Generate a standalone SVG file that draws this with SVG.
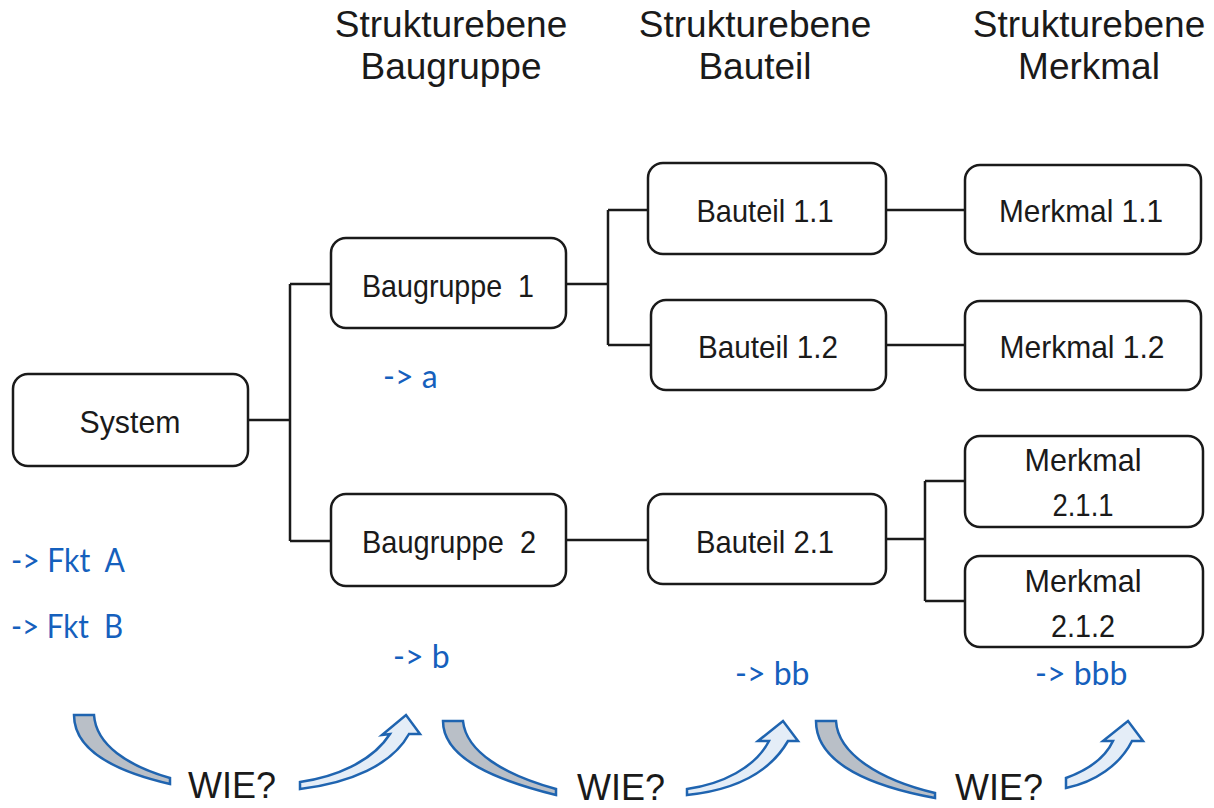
<svg xmlns="http://www.w3.org/2000/svg" width="1214" height="808" viewBox="0 0 1214 808">
<style>
.box{fill:#fff;stroke:#1a1a1a;stroke-width:2.5}
.lbl{font-family:"Liberation Sans",Arial,sans-serif;font-size:32px;fill:#1a1a1a;text-anchor:middle}
.ttl{font-family:"Liberation Sans",Arial,sans-serif;font-size:37px;fill:#1a1a1a;text-anchor:middle}
.blue{font-family:Lato,"Liberation Sans",sans-serif;font-size:32px;fill:#1560bd}
.wie{font-family:"Liberation Sans",Arial,sans-serif;font-size:36px;fill:#1a1a1a}
.con{fill:none;stroke:#1a1a1a;stroke-width:2.5}
.tail{fill:#b9bfc7;stroke:#1f64b0;stroke-width:2.5;stroke-linejoin:miter}
.up{fill:#e4edf7;stroke:#1f64b0;stroke-width:2.5;stroke-linejoin:miter}
</style>
<rect width="1214" height="808" fill="#fff"/>
<g id="titles">
<text class="ttl" x="451" y="37">Strukturebene</text>
<text class="ttl" x="451" y="79">Baugruppe</text>
<text class="ttl" x="755" y="37">Strukturebene</text>
<text class="ttl" x="755" y="79">Bauteil</text>
<text class="ttl" x="1089" y="37">Strukturebene</text>
<text class="ttl" x="1089" y="79">Merkmal</text>
</g>
<g id="connectors">
<path class="con" d="M248,420 H290 M290,284 V541 M290,284 H331 M290,541 H331"/>
<path class="con" d="M566,284 H608 M608,210 V345 M608,210 H648 M608,345 H651"/>
<path class="con" d="M886,210 H965 M886,345 H965"/>
<path class="con" d="M566,540 H648"/>
<path class="con" d="M886,539 H925 M925,481 V601 M925,481 H965 M925,601 H965"/>
</g>
<g id="system"><rect class="box" x="13" y="374" width="235" height="92" rx="15"/><text class="lbl" x="130" y="433" textLength="101" lengthAdjust="spacingAndGlyphs">System</text></g>
<g id="baugruppe1"><rect class="box" x="331" y="238" width="235" height="90" rx="15"/><text class="lbl" x="448" y="297" xml:space="preserve" textLength="172" lengthAdjust="spacingAndGlyphs">Baugruppe  1</text></g>
<g id="baugruppe2"><rect class="box" x="331" y="494" width="235" height="92" rx="15"/><text class="lbl" x="449" y="553" xml:space="preserve" textLength="174" lengthAdjust="spacingAndGlyphs">Baugruppe  2</text></g>
<g id="bauteil11"><rect class="box" x="648" y="163" width="238" height="91" rx="15"/><text class="lbl" x="765" y="222" textLength="137" lengthAdjust="spacingAndGlyphs">Bauteil 1.1</text></g>
<g id="bauteil12"><rect class="box" x="651" y="300" width="235" height="90" rx="15"/><text class="lbl" x="768" y="358" textLength="140" lengthAdjust="spacingAndGlyphs">Bauteil 1.2</text></g>
<g id="merkmal11"><rect class="box" x="965" y="165" width="236" height="89" rx="15"/><text class="lbl" x="1081" y="222" textLength="164" lengthAdjust="spacingAndGlyphs">Merkmal 1.1</text></g>
<g id="merkmal12"><rect class="box" x="965" y="301" width="236" height="89" rx="15"/><text class="lbl" x="1082" y="358" textLength="165" lengthAdjust="spacingAndGlyphs">Merkmal 1.2</text></g>
<g id="bauteil21"><rect class="box" x="648" y="494" width="238" height="90" rx="15"/><text class="lbl" x="765" y="553" textLength="138" lengthAdjust="spacingAndGlyphs">Bauteil 2.1</text></g>
<g id="merkmal211"><rect class="box" x="965" y="436" width="238" height="91" rx="15"/><text class="lbl" x="1083" y="471" textLength="117" lengthAdjust="spacingAndGlyphs">Merkmal</text><text class="lbl" x="1083" y="516" textLength="61" lengthAdjust="spacingAndGlyphs">2.1.1</text></g>
<g id="merkmal212"><rect class="box" x="965" y="556" width="238" height="91" rx="15"/><text class="lbl" x="1083" y="592" textLength="117" lengthAdjust="spacingAndGlyphs">Merkmal</text><text class="lbl" x="1083" y="637" textLength="64" lengthAdjust="spacingAndGlyphs">2.1.2</text></g>
<g id="notes">
<text class="blue" x="383" y="388">-&gt; a</text>
<text class="blue" x="393" y="668">-&gt; b</text>
<text class="blue" x="735" y="685">-&gt; bb</text>
<text class="blue" x="1035" y="685">-&gt; bbb</text>
<text class="blue" x="11" y="572" xml:space="preserve" textLength="114" lengthAdjust="spacingAndGlyphs">-&gt; Fkt  A</text>
<text class="blue" x="11" y="638" xml:space="preserve" textLength="112" lengthAdjust="spacingAndGlyphs">-&gt; Fkt  B</text>
</g>
<g id="wie-arrows">
<path class="tail" d="M74,715 L94,715 C96,745 128,766 170,778 L170,784 C118,772 74,752 74,715 Z"/>
<text class="wie" x="188" y="798">WIE?</text>
<path class="up" d="M300,782 C335,777 372,762 390,734 L382,735 L406,715 L420,734 L409,734 C392,765 350,783 300,789 Z"/>
<path class="tail" d="M443,721 L463,721 C466,752 505,775 556,789 L556,795 C500,781 443,760 443,721 Z"/>
<text class="wie" x="577" y="800">WIE?</text>
<path class="up" d="M687,789 C722,784 755,768 769,741 L758,741 L783,721 L798,741 L788,741 C770,772 735,790 687,795 Z"/>
<path class="tail" d="M816,721 L836,721 C838,754 880,780 935,793 L935,798 C875,787 816,765 816,721 Z"/>
<text class="wie" x="955" y="800">WIE?</text>
<path class="up" d="M1066,778 C1088,770 1105,758 1113,741 L1103,741 L1128,721 L1143,741 L1132,741 C1120,765 1095,782 1066,788 Z"/>
</g>
</svg>
